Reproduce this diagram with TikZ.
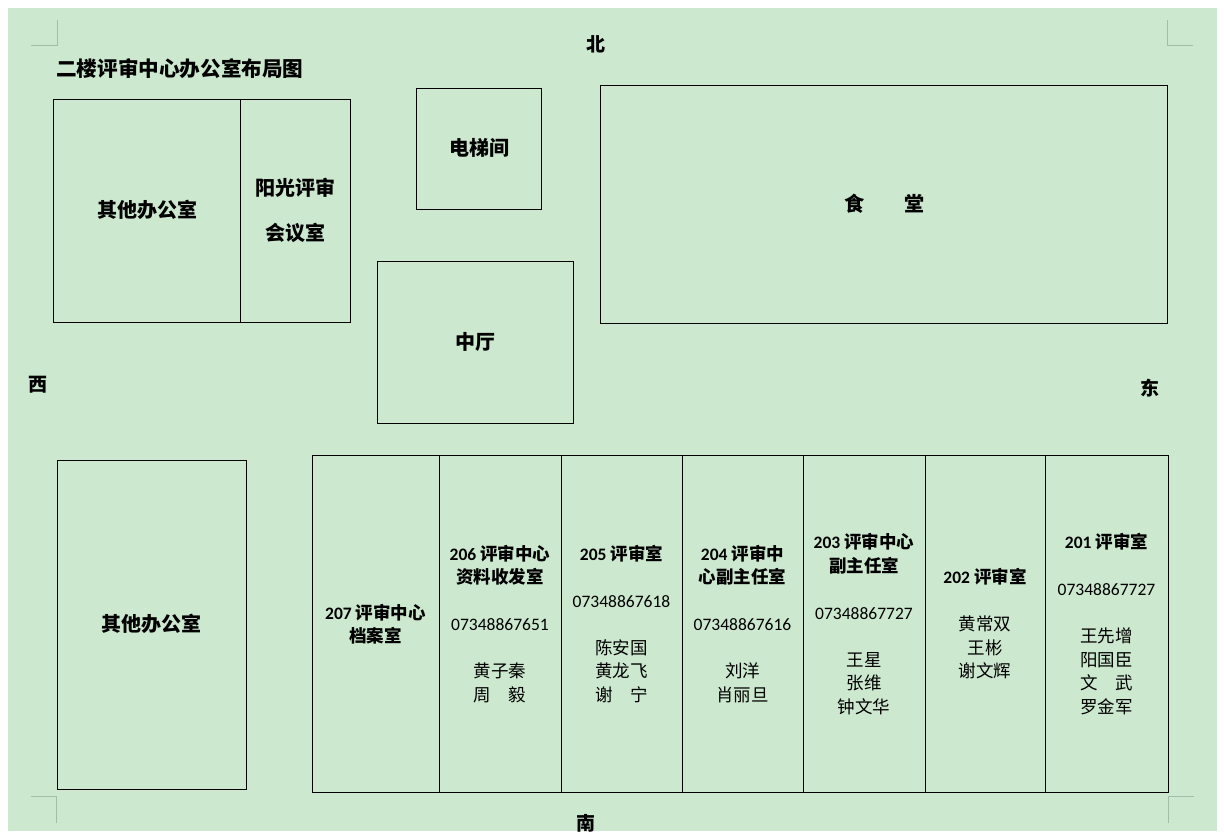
\documentclass[tikz,border=0pt]{standalone}
\usepackage{fontspec}
\usepackage{xcolor}
\setmainfont{Carlito}
\newfontfamily\cjk{Noto Sans CJK SC}
\definecolor{paper}{HTML}{CCE8CF}
\definecolor{crop}{HTML}{A4BDA6}
\definecolor{ink}{HTML}{000000}
\tikzset{
  room/.style={draw=ink, line width=1pt},
  cropmark/.style={draw=crop, line width=0.9pt},
  big/.style={font=\cjk\bfseries\fontsize{20}{45}\selectfont, align=center, inner sep=0pt},
  dir/.style={font=\cjk\bfseries\fontsize{19}{19}\selectfont, inner sep=0pt},
  cell/.style={font=\fontsize{17.5}{23.5}\selectfont, align=center, inner sep=0pt},
  every node/.style={text=ink}
}
\newcommand{\zh}[1]{{\cjk #1}}
\newcommand{\hd}[1]{{\bfseries #1}}

\begin{document}
\begin{tikzpicture}[x=1pt,y=-1pt]
  \useasboundingbox (0,0) rectangle (1224,838);
  \fill[white] (0,0) rectangle (1224,838);
  \fill[paper] (8,8) rectangle (1217,831);

  % crop marks
  \draw[cropmark] (31,45) -- (57,45) -- (57,20);
  \draw[cropmark] (1193,45) -- (1167,45) -- (1167,20);
  \draw[cropmark] (31,796) -- (56,796) -- (56,823);
  \draw[cropmark] (1194,796) -- (1168,796) -- (1168,823);

  \node[big, anchor=west, font=\cjk\bfseries\fontsize{20.6}{21}\selectfont] (title) at (56,69) {二楼评审中心办公室布局图};

  \node[dir] (north) at (596,44) {北};
  \node[dir] (west) at (38,385) {西};
  \node[dir] (east) at (1150,388) {东};
  \begin{scope}
    \clip (8,8) rectangle (1217,831);
    \node[dir] (south) at (586,823) {南};
  \end{scope}

  % north side
  \draw[room] (53,99) rectangle (350,322);
  \draw[room] (240,99) -- (240,322);
  \node[big] (other1) at (147,210) {其他办公室};
  \node[big] (meeting) at (295,210) {阳光评审\\会议室};

  \draw[room] (416,88) rectangle (541,209);
  \node[big] (lift) at (479,148) {电梯间};

  \draw[room] (377,261) rectangle (573,423);
  \node[big] (hall) at (475,342) {中厅};

  \draw[room] (600,85) rectangle (1167,323);
  \node[big] (canteen) at (884,204) {食\hspace{2em}堂};

  % south side
  \draw[room] (57,460) rectangle (246,789);
  \node[big] (other2) at (151,624) {其他办公室};

  \draw[room] (312,455) rectangle (1168,792);
  \foreach \x in {439,561,682,803,925,1045}
    \draw[room] (\x,455) -- (\x,792);

  \node[cell] (r207) at (375.5,624) {\hd{207 \zh{评审中心}}\\\hd{\zh{档案室}}};
  \node[cell] (r206) at (500,624) {\hd{206 \zh{评审中心}}\\\hd{\zh{资料收发室}}\\[23.5pt]
    07348867651\\[23.5pt]\zh{黄子秦}\\\zh{周\hspace{1em}毅}};
  \node[cell] (r205) at (621.5,624) {\hd{205 \zh{评审室}}\\[23.5pt]07348867618\\[23.5pt]
    \zh{陈安国}\\\zh{黄龙飞}\\\zh{谢\hspace{1em}宁}};
  \node[cell] (r204) at (742.5,624) {\hd{204 \zh{评审中}}\\\hd{\zh{心副主任室}}\\[23.5pt]
    07348867616\\[23.5pt]\zh{刘洋}\\\zh{肖丽旦}};
  \node[cell] (r203) at (864,624) {\hd{203 \zh{评审中心}}\\\hd{\zh{副主任室}}\\[23.5pt]
    07348867727\\[23.5pt]\zh{王星}\\\zh{张维}\\\zh{钟文华}};
  \node[cell] (r202) at (985,624) {\hd{202 \zh{评审室}}\\[23.5pt]
    \zh{黄常双}\\\zh{王彬}\\\zh{谢文辉}};
  \node[cell] (r201) at (1106.5,624) {\hd{201 \zh{评审室}}\\[23.5pt]07348867727\\[23.5pt]
    \zh{王先增}\\\zh{阳国臣}\\\zh{文\hspace{1em}武}\\\zh{罗金军}};
\end{tikzpicture}
\end{document}
